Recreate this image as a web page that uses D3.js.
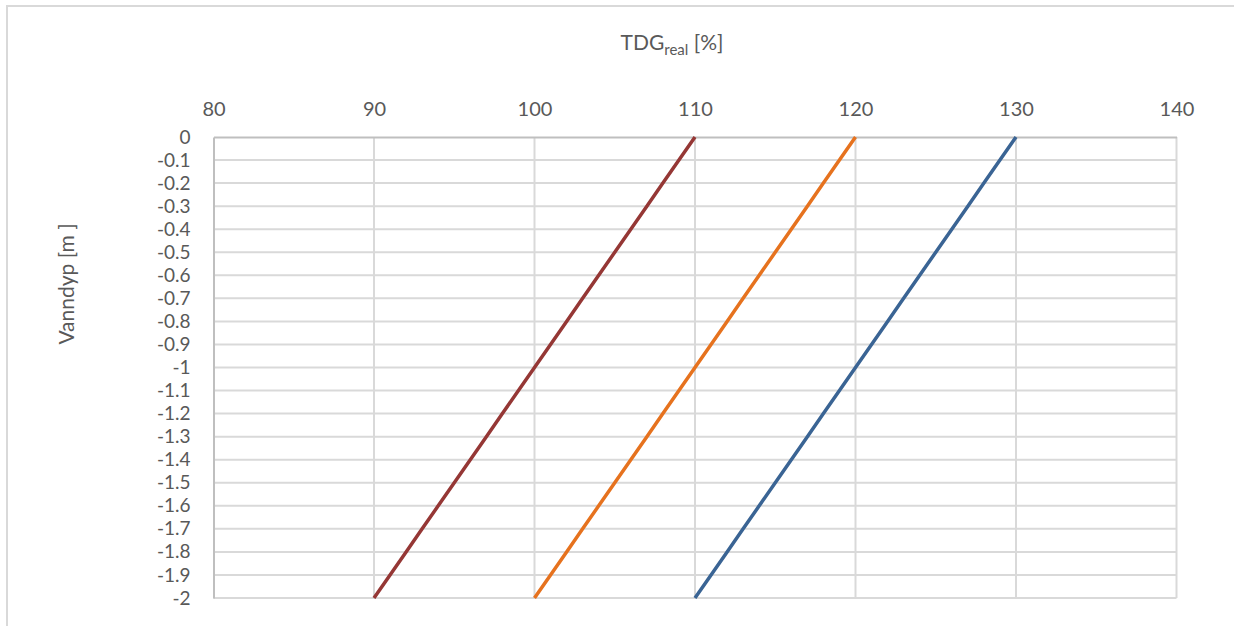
<!DOCTYPE html>
<html>
<head>
<meta charset="utf-8">
<script src="https://cdn.jsdelivr.net/npm/d3@7"></script>
<style>
  html, body { margin: 0; padding: 0; background: #fff; }
  svg { display: block; }
  text { font-family: Lato, "Open Sans", sans-serif; fill: #595959; }
</style>
</head>
<body>
<svg id="chart" width="1234" height="626"></svg>
<script>
// Water depth [m] at each sample (y axis)
const depths = [0, -0.1, -0.2, -0.3, -0.4, -0.5, -0.6, -0.7, -0.8, -0.9, -1,
                -1.1, -1.2, -1.3, -1.4, -1.5, -1.6, -1.7, -1.8, -1.9, -2];

// TDG_real [%] profiles for three surface saturations
const tdg110 = [110, 109, 108, 107, 106, 105, 104, 103, 102, 101, 100,
                99, 98, 97, 96, 95, 94, 93, 92, 91, 90];
const tdg120 = [120, 119, 118, 117, 116, 115, 114, 113, 112, 111, 110,
                109, 108, 107, 106, 105, 104, 103, 102, 101, 100];
const tdg130 = [130, 129, 128, 127, 126, 125, 124, 123, 122, 121, 120,
                119, 118, 117, 116, 115, 114, 113, 112, 111, 110];

const seriesColors = ["#953735", "#E6721E", "#3A6494"];

const xTicks = [80, 90, 100, 110, 120, 130, 140];
const yTicks = depths;

const svg = d3.select("#chart");

// Outer chart frame
svg.append("rect")
  .attr("x", 7).attr("y", 6)
  .attr("width", 1240).attr("height", 640)
  .attr("fill", "none").attr("stroke", "#d9d9d9").attr("stroke-width", 2);

const plotL = 213.5, plotR = 1176.5, plotT = 137, plotB = 598;

const x = d3.scaleLinear().domain([80, 140]).range([plotL, plotR]);
const y = d3.scaleLinear().domain([0, -2]).range([plotT, plotB]);

// Gridlines
const grid = svg.append("g");
grid.selectAll("line.h").data(yTicks.slice(1)).join("line")
  .attr("class", "h")
  .attr("x1", plotL).attr("x2", plotR)
  .attr("y1", d => y(d)).attr("y2", d => y(d))
  .attr("stroke", "#d9d9d9").attr("stroke-width", 2);
grid.selectAll("line.v").data(xTicks.slice(1)).join("line")
  .attr("class", "v")
  .attr("y1", plotT).attr("y2", plotB)
  .attr("x1", d => x(d)).attr("x2", d => x(d))
  .attr("stroke", "#d9d9d9").attr("stroke-width", 2);

// Axes (top x axis, left y axis)
const xAxis = svg.append("g").attr("transform", `translate(0,${plotT})`)
  .call(d3.axisTop(x).tickValues(xTicks).tickSize(0).tickPadding(21).tickFormat(d3.format("d")));
xAxis.select(".domain").attr("stroke", "#bfbfbf").attr("stroke-width", 2);
xAxis.selectAll("text").style("font-size", "20px").attr("fill", "#595959")
  .style("font-family", "Lato, sans-serif");

const yAxis = svg.append("g").attr("transform", `translate(${plotL},0)`)
  .call(d3.axisLeft(y).tickValues(yTicks).tickSize(0).tickPadding(23)
    .tickFormat(d => d === 0 ? "0" : String(d)));
yAxis.select(".domain").attr("stroke", "#bfbfbf").attr("stroke-width", 2);
yAxis.selectAll("text").style("font-size", "19px").attr("fill", "#595959")
  .style("font-family", "Lato, sans-serif");

// Lines
const line = d3.line().x(d => x(d[0])).y(d => y(d[1]));
[tdg110, tdg120, tdg130].forEach((vals, i) => {
  svg.append("path")
    .datum(vals.map((v, j) => [v, depths[j]]))
    .attr("d", line)
    .attr("fill", "none")
    .attr("stroke", seriesColors[i])
    .attr("stroke-width", 3.5)
    .attr("stroke-linejoin", "round");
});

// Axis titles
const xTitle = svg.append("text")
  .attr("x", 672).attr("y", 50)
  .attr("text-anchor", "middle")
  .style("font-size", "21px");
xTitle.append("tspan").text("TDG");
xTitle.append("tspan").attr("dy", 5).style("font-size", "15px").text("real");
xTitle.append("tspan").attr("dy", -5).text(" [%]");

svg.append("text")
  .attr("transform", "translate(74,284) rotate(-90)")
  .attr("text-anchor", "middle")
  .style("font-size", "21px")
  .text("Vanndyp [m ]");
</script>
</body>
</html>
